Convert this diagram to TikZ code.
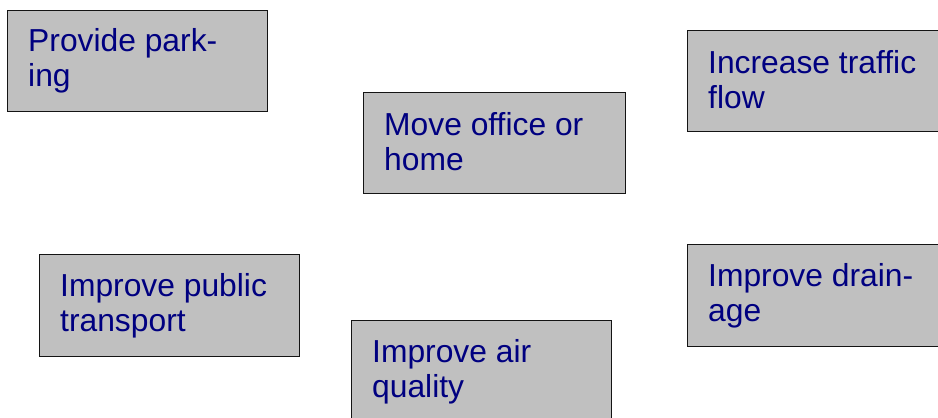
\documentclass[tikz,border=0pt]{standalone}
\usepackage{fontspec}
\setmainfont[Ligatures=NoCommon]{Liberation Sans}
\definecolor{boxfill}{RGB}{192,192,192}
\definecolor{navytext}{RGB}{0,0,128}
\definecolor{boxline}{RGB}{20,20,20}
\newcommand{\twolines}[2]{\vtop{\baselineskip=35pt\hbox{#1}\hbox{#2}}}
\begin{document}
\begin{tikzpicture}[x=1pt,y=-1pt,
  goalbox/.style={draw=boxline, fill=boxfill, line width=1.3pt, rectangle,
    anchor=north west, inner sep=0pt, minimum height=101pt, minimum width=260pt},
  goaltext/.style={anchor=base west, inner sep=0pt, text=navytext,
    font=\fontsize{31.8pt}{35pt}\selectfont}]
\useasboundingbox (0,0) rectangle (938,418);
\node[goalbox] (b1) at (7,10) {};
\node[goalbox, minimum width=262pt] (b2) at (363,92) {};
\node[goalbox] (b3) at (687,30) {};
\node[goalbox, minimum height=102pt] (b4) at (39,254) {};
\node[goalbox, minimum height=104pt] (b5) at (351,320) {};
\node[goalbox, minimum height=102pt] (b6) at (687,244) {};
\node[goaltext] (t1) at ([shift={(21pt,-41pt)}]b1.north west) {\twolines{Provide park-}{ing}};
\node[goaltext] (t2) at ([shift={(21pt,-43pt)}]b2.north west) {\twolines{Move office or}{home}};
\node[goaltext] (t3) at ([shift={(21pt,-43pt)}]b3.north west) {\twolines{Increase traffic}{flow}};
\node[goaltext] (t4) at ([shift={(21pt,-42pt)}]b4.north west) {\twolines{Improve public}{transport}};
\node[goaltext] (t5) at ([shift={(21pt,-42pt)}]b5.north west) {\twolines{Improve air}{quality}};
\node[goaltext] (t6) at ([shift={(21pt,-42pt)}]b6.north west) {\twolines{Improve drain-}{age}};
\end{tikzpicture}
\end{document}
